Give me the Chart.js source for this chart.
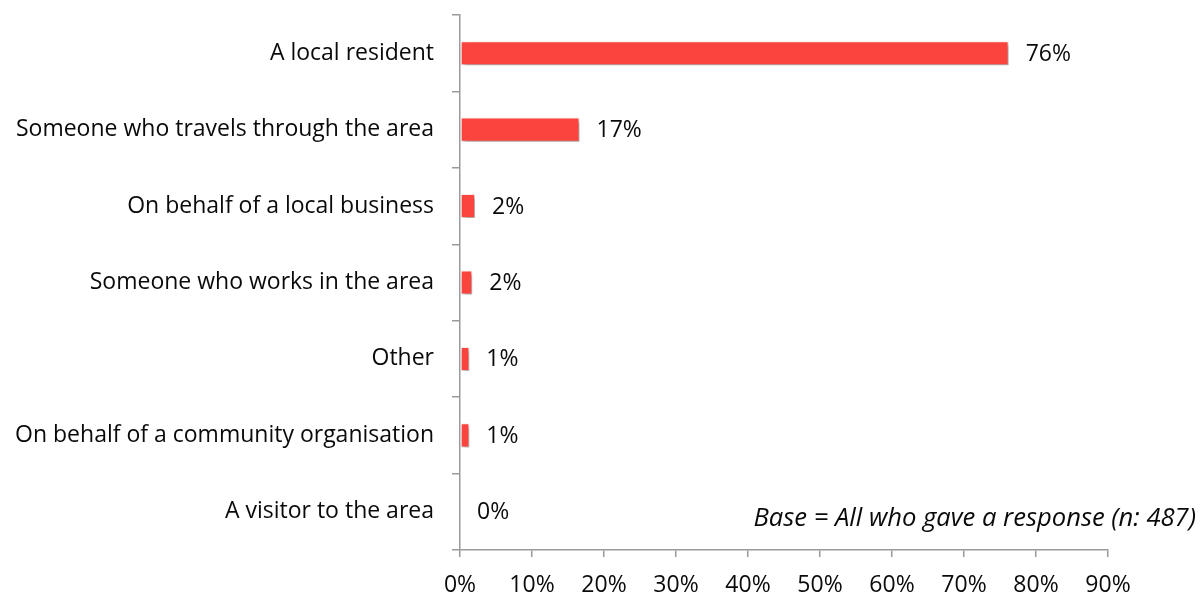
<!DOCTYPE html>
<html lang="en">
<head>
  <meta charset="UTF-8">
  <title>Respondent type</title>
  <style>
    html, body {
      margin: 0;
      padding: 0;
      background: #ffffff;
    }
    #wrap {
      width: 1201px;
      height: 595px;
      position: relative;
    }
  </style>
</head>
<body>
  <div id="wrap">
    <canvas id="respondentChart"></canvas>
  </div>

  <script src="https://cdn.jsdelivr.net/npm/chart.js@4.4.1/dist/chart.umd.min.js"></script>
  <script>
    const categories = [
      'A local resident',
      'Someone who travels through the area',
      'On behalf of a local business',
      'Someone who works in the area',
      'Other',
      'On behalf of a community organisation',
      'A visitor to the area'
    ];
    const shares = [76.2, 16.6, 2.1, 1.7, 1.3, 1.3, 0];
    const xTicks = [0, 10, 20, 30, 40, 50, 60, 70, 80, 90];
    const baseNote = 'Base = All who gave a response (n: 487)';

    const FONT = '"Open Sans", "DejaVu Sans", sans-serif';
    const AXIS_GREY = '#9a9a9a';
    const TEXT = '#0a0a0a';

    // soft drop shadow behind the bars
    const barShadow = {
      id: 'barShadow',
      beforeDatasetsDraw(chart) {
        const ctx = chart.ctx;
        ctx.save();
        ctx.shadowColor = 'rgba(0, 0, 0, 0.35)';
        ctx.shadowBlur = 4;
        ctx.shadowOffsetX = 2;
        ctx.shadowOffsetY = 3;
      },
      afterDatasetsDraw(chart) {
        chart.ctx.restore();
      }
    };

    // percentage labels next to each bar, plus the base note
    const valueLabels = {
      id: 'valueLabels',
      afterDraw(chart) {
        const ctx = chart.ctx;
        const meta = chart.getDatasetMeta(0);
        ctx.save();
        ctx.fillStyle = TEXT;
        ctx.font = '23px ' + FONT;
        ctx.textAlign = 'left';
        ctx.textBaseline = 'middle';
        meta.data.forEach((bar, i) => {
          ctx.fillText(Math.round(shares[i]) + '%', bar.x + 17, bar.y + 1);
        });
        ctx.font = 'italic 25.6px ' + FONT;
        ctx.textAlign = 'right';
        ctx.fillText(baseNote, 1196, 519);
        ctx.restore();
      }
    };

    new Chart(document.getElementById('respondentChart'), {
      type: 'bar',
      data: {
        labels: categories,
        datasets: [{
          data: shares,
          backgroundColor: '#fb443d',
          borderColor: 'rgba(255, 235, 235, 0.9)',
          borderWidth: 1,
          borderSkipped: false,
          barPercentage: 0.315,
          categoryPercentage: 1
        }]
      },
      options: {
        indexAxis: 'y',
        responsive: true,
        maintainAspectRatio: false,
        animation: false,
        layout: {
          padding: { top: 15, right: 93, left: 0, bottom: 0 }
        },
        plugins: {
          legend: { display: false },
          tooltip: { enabled: false }
        },
        scales: {
          x: {
            min: 0,
            max: 90,
            afterBuildTicks(scale) {
              scale.ticks = xTicks.map(v => ({ value: v }));
            },
            afterFit(scale) {
              scale.height = 45;
            },
            border: { color: AXIS_GREY, width: 1.5 },
            grid: {
              drawOnChartArea: false,
              drawTicks: true,
              tickLength: 7,
              color: AXIS_GREY,
              lineWidth: 1.5
            },
            ticks: {
              color: TEXT,
              font: { family: FONT, size: 23 },
              padding: 15,
              maxRotation: 0,
              callback: v => v + '%'
            }
          },
          y: {
            afterFit(scale) {
              scale.width = 460;
              scale.paddingTop = 0;
              scale.paddingBottom = 0;
            },
            border: { color: AXIS_GREY, width: 1.5 },
            grid: {
              offset: true,
              drawOnChartArea: false,
              drawTicks: true,
              tickLength: 8,
              color: AXIS_GREY,
              lineWidth: 1.5
            },
            ticks: {
              color: TEXT,
              font: { family: FONT, size: 23 },
              padding: 18
            }
          }
        }
      },
      plugins: [barShadow, valueLabels]
    });
  </script>
</body>
</html>
